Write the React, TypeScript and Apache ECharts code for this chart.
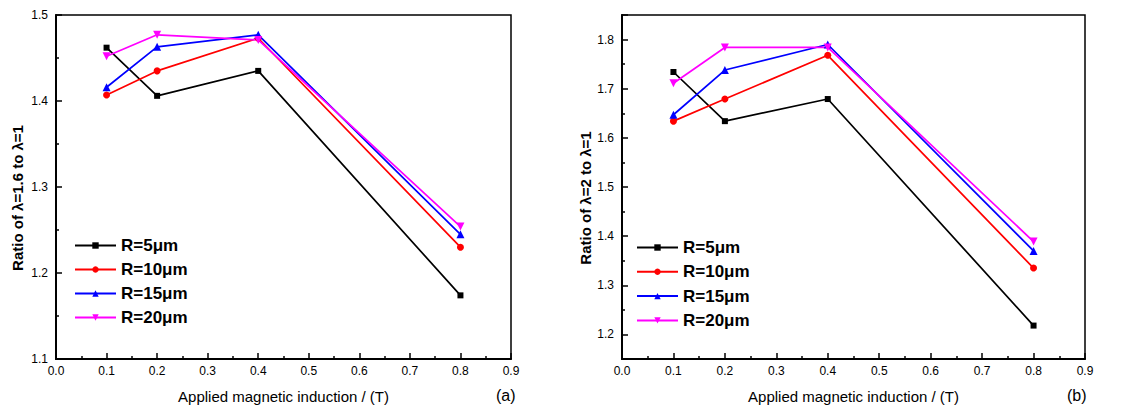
import React, { useEffect, useRef } from "react";
import * as echarts from "echarts";

const seriesNames = ["R=5μm", "R=10μm", "R=15μm", "R=20μm"];
const xValues = [0.1, 0.2, 0.4, 0.8];

// Panel (a): ratio of λ=1.6 to λ=1
const a_R5 = [1.462, 1.406, 1.435, 1.174];
const a_R10 = [1.407, 1.435, 1.473, 1.23];
const a_R15 = [1.416, 1.463, 1.477, 1.245];
const a_R20 = [1.452, 1.477, 1.471, 1.254];

// Panel (b): ratio of λ=2 to λ=1
const b_R5 = [1.734, 1.634, 1.679, 1.218];
const b_R10 = [1.634, 1.679, 1.768, 1.335];
const b_R15 = [1.647, 1.738, 1.79, 1.37];
const b_R20 = [1.711, 1.784, 1.784, 1.389];

const colors = ["#000000", "#ff0000", "#0000ff", "#ff00ff"];
const symbols = ["rect", "circle", "triangle", "path://M0,0L2,0L1,1.7Z"];
const symbolSizes = [6, 7, 8, 8];

const FONT = "'Liberation Sans', Arial, sans-serif";

export default function App() {
  const ref = useRef<HTMLDivElement>(null);

  useEffect(() => {
    if (!ref.current) return;
    const chart = echarts.init(ref.current, undefined, { renderer: "svg" });

    const fmt1 = (v: number) =>
      Math.abs(v * 10 - Math.round(v * 10)) < 1e-6 ? v.toFixed(1) : "";

    const xAxisBase = (gridIndex: number) => ({
      type: "value",
      gridIndex,
      min: 0,
      max: 0.9,
      interval: 0.1,
      name: "Applied magnetic induction / (T)",
      nameLocation: "middle",
      nameGap: 30,
      nameTextStyle: { fontSize: 15, color: "#000", fontFamily: FONT },
      axisLine: { show: true, onZero: false, lineStyle: { color: "#000", width: 2 } },
      axisTick: { show: true, inside: true, length: 6, lineStyle: { color: "#000", width: 1.5 } },
      minorTick: { show: true, splitNumber: 2, length: 3, lineStyle: { color: "#000", width: 1.5 } },
      splitLine: { show: false },
      axisLabel: { fontSize: 12, color: "#000", fontFamily: FONT, margin: 6, formatter: fmt1 },
    });

    const yAxisBase = (gridIndex: number, name: string, nameGap: number) => ({
      type: "value",
      gridIndex,
      name,
      nameLocation: "middle",
      nameRotate: 90,
      nameGap,
      nameTextStyle: {
        fontSize: 15,
        fontWeight: "bold",
        color: "#000",
        fontFamily: FONT,
        padding: [0, 22, 0, 0],
      },
      axisLine: { show: true, onZero: false, lineStyle: { color: "#000", width: 2 } },
      axisTick: { show: true, inside: true, length: 6, lineStyle: { color: "#000", width: 1.5 } },
      minorTick: { show: true, splitNumber: 2, length: 3, lineStyle: { color: "#000", width: 1.5 } },
      splitLine: { show: false },
      axisLabel: { fontSize: 12, color: "#000", fontFamily: FONT, margin: 8, formatter: fmt1 },
    });

    const dataA = [a_R5, a_R10, a_R15, a_R20];
    const dataB = [b_R5, b_R10, b_R15, b_R20];

    const mkSeries = (vals: number[][], idx: number) =>
      vals.map((arr, i) => ({
        type: "line",
        name: seriesNames[i],
        xAxisIndex: idx,
        yAxisIndex: idx,
        data: xValues.map((x, j) => [x, arr[j]]),
        symbol: symbols[i],
        symbolSize: symbolSizes[i],
        showAllSymbol: true,
        color: colors[i],
        itemStyle: { color: colors[i] },
        lineStyle: { color: colors[i], width: 1.7 },
      }));

    const legendBase = (left: number, top: number, gap: number) => ({
      orient: "vertical",
      left,
      top,
      itemWidth: 41,
      itemHeight: 8,
      itemGap: gap,
      data: seriesNames,
      textStyle: { fontSize: 17, fontWeight: "bold", color: "#000", fontFamily: FONT },
    });

    chart.setOption({
      animation: false,
      backgroundColor: "#fff",
      grid: [
        { left: 56, right: 1146 - 511, top: 15, bottom: 410 - 359, show: true, borderColor: "#000", borderWidth: 1.5 },
        { left: 622, right: 1146 - 1085, top: 15, bottom: 410 - 359, show: true, borderColor: "#000", borderWidth: 1.5 },
      ],
      xAxis: [xAxisBase(0), xAxisBase(1)],
      yAxis: [
        { ...yAxisBase(0, "Ratio of λ=1.6 to λ=1", 31), min: 1.1, max: 1.5, interval: 0.1 },
        { ...yAxisBase(1, "Ratio of λ=2 to λ=1", 29), min: 1.15, max: 1.85, splitNumber: 7 },
      ],
      legend: [legendBase(69, 232, 7), legendBase(631, 234, 7.3)],
      series: [...mkSeries(dataA, 0), ...mkSeries(dataB, 1)],
      graphic: [
        { type: "text", left: 496, top: 387, style: { text: "(a)", fontSize: 16, fill: "#000", fontFamily: FONT } },
        { type: "text", left: 1067, top: 387, style: { text: "(b)", fontSize: 16, fill: "#000", fontFamily: FONT } },
      ],
    });

    return () => chart.dispose();
  }, []);

  return (
    <div
      ref={ref}
      style={{ position: "absolute", left: 0, top: 0, width: 1146, height: 410 }}
    />
  );
}
